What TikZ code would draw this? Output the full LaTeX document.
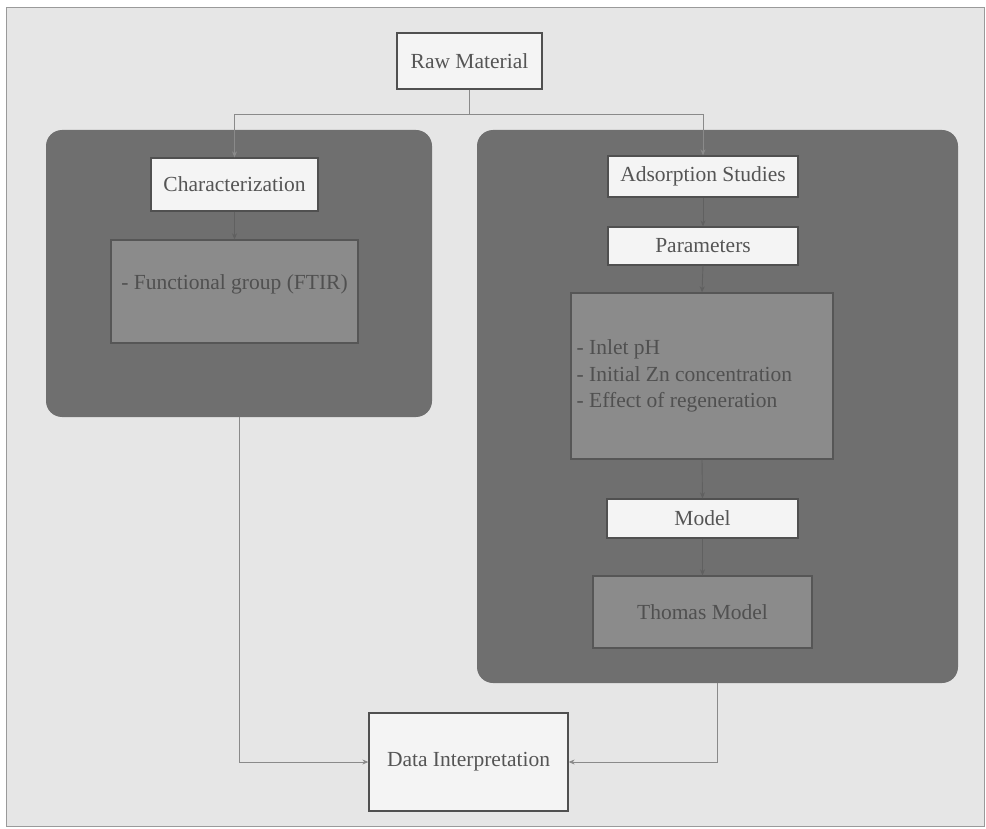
\documentclass[tikz,border=0pt]{standalone}
\usepackage{fontspec}
\setmainfont{Liberation Serif}
\usetikzlibrary{arrows.meta}
\definecolor{bgc}{HTML}{E6E6E6}
\definecolor{framec}{HTML}{9A9A9A}
\definecolor{panelc}{HTML}{6F6F6F}
\definecolor{whitec}{HTML}{F4F4F4}
\definecolor{midc}{HTML}{8B8B8B}
\definecolor{edgec}{HTML}{505050}
\definecolor{txtc}{HTML}{555555}
\definecolor{linec}{HTML}{8A8A8A}
\definecolor{inlinec}{HTML}{606060}
\tikzset{
  panel/.style={draw=none, fill=panelc, rounded corners=16pt, inner sep=0pt},
  wbox/.style={draw=edgec, line width=1.3pt, fill=whitec, text=txtc, inner sep=0pt,
    font=\fontsize{21.5}{26.5}\selectfont},
  mbox/.style={draw=edgec!80!panelc, line width=1.3pt, fill=midc, text=edgec, inner sep=0pt,
    font=\fontsize{21.5}{26.5}\selectfont},
  conn/.style={draw=linec, line width=0.9pt},
  inconn/.style={draw=inlinec, line width=0.9pt},
  tip/.style={-{Stealth[length=6pt,width=5pt]}}
}
\begin{document}
\begin{tikzpicture}[x=1pt,y=-1pt]
\useasboundingbox (0,0) rectangle (986,829);
\fill[white] (0,0) rectangle (986,829);
\draw[fill=bgc, draw=framec, line width=0.8pt] (6,7) rectangle (984,826);

% panels
\node[panel, minimum width=386pt, minimum height=287pt] (lp) at (239,273.5) {};
\node[panel, minimum width=481pt, minimum height=553pt] (rp) at (717.5,406.5) {};

% boxes
\node[wbox, minimum width=145pt, minimum height=56pt] (raw) at (469.5,61) {Raw Material};
\node[wbox, minimum width=167pt, minimum height=53pt] (char) at (234.5,184.5) {Characterization};
\node[mbox, minimum width=247pt, minimum height=103pt, text depth=18pt] (ftir) at (234.5,291.5) {- Functional group (FTIR)};
\node[wbox, minimum width=190pt, minimum height=41pt] (ads) at (703,176.5) {Adsorption Studies};
\node[wbox, minimum width=190pt, minimum height=38pt] (par) at (703,246) {Parameters};
\node[mbox, minimum width=262pt, minimum height=166pt] (lst) at (702,376) {};
\node[mbox, draw=none, fill=none, anchor=west, align=left] (lsttxt) at (576,376)
  {- Inlet pH\\- Initial Zn concentration\\- Effect of regeneration};
\node[wbox, minimum width=191pt, minimum height=39pt] (mod) at (702.5,518.5) {Model};
\node[mbox, minimum width=219pt, minimum height=72pt] (tho) at (702.5,612) {Thomas Model};
\node[wbox, minimum width=199pt, minimum height=98pt] (dat) at (468.5,762) {Data Interpretation};

% connectors
\coordinate (split) at (469.5,114);
\draw[conn] (raw.south) -- (split);
\draw[conn, tip] (split) -| (char.north);
\draw[conn, tip] (split) -| (ads.north);
\draw[inconn, tip] (char.south) -- (ftir.north);
\draw[inconn, tip] (ads.south) -- (par.north);
\draw[inconn, tip] (par.south) -- (lst.north);
\draw[inconn, tip] (lst.south) -- (mod.north);
\draw[inconn, tip] (mod.south) -- (tho.north);
\draw[conn, tip] (lp.south) |- (dat.west);
\draw[conn, tip] (rp.south) |- (dat.east);
\end{tikzpicture}
\end{document}
